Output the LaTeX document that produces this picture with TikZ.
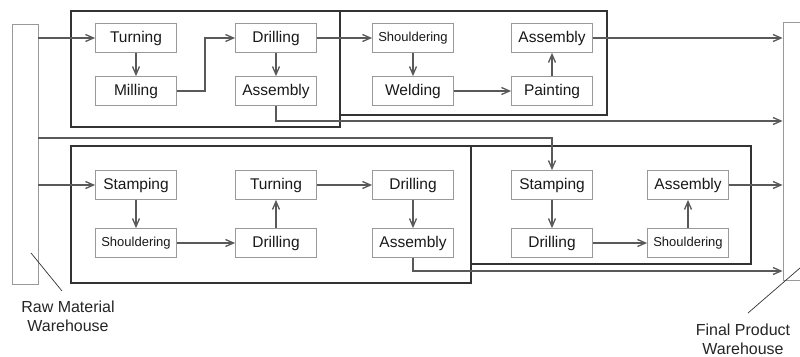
\documentclass[tikz,border=0pt]{standalone}
\usepackage{fontspec}
\setmainfont{Liberation Sans}
\usetikzlibrary{arrows.meta}
\begin{document}
\begin{tikzpicture}[x=1pt,y=-1pt,
  proc/.style={draw=black!40, line width=0.8pt, minimum width=81pt, minimum height=29pt, inner sep=0pt, font=\fontsize{15.5}{17}\selectfont, text=black!90},
  small/.style={font=\fontsize{13}{15}\selectfont},
  group/.style={draw=black!80, line width=2pt},
  flow/.style={draw=black!65, line width=1.3pt, -{Straight Barb[length=8pt,width=7pt]}},
  wh/.style={draw=black!40, line width=0.8pt, inner sep=0pt},
  lbl/.style={font=\fontsize{16}{19}\selectfont, align=center, text=black!85},
  leader/.style={draw=black!80, line width=0.7pt}]
\useasboundingbox (0,0) rectangle (800,356);
\clip (0,0) rectangle (800,356);
\fill[white] (0,0) rectangle (800,356);

% warehouses
\node[wh, minimum width=26pt, minimum height=260pt] (rw) at (25,154) {};
\node[wh, minimum width=30pt, minimum height=258pt] (fw) at (798,151) {};

% groups
\draw[group] (71,11) rectangle (340,127);
\draw[group] (340,11) rectangle (607,115);
\draw[group] (71,146) rectangle (471,283);
\draw[group] (471,146) rectangle (751,264);

% group 1
\node[proc] (t1) at (136,38) {Turning};
\node[proc] (m1) at (136,91) {Milling};
\node[proc] (d1) at (276,38) {Drilling};
\node[proc] (a1) at (276,91) {Assembly};
% group 2
\node[proc, small] (s2) at (413,38) {Shouldering};
\node[proc] (w2) at (413,91) {Welding};
\node[proc] (a2) at (552,38) {Assembly};
\node[proc] (p2) at (552,91) {Painting};
% group 3
\node[proc] (st3) at (136,185) {Stamping};
\node[proc, small] (sh3) at (136,243) {Shouldering};
\node[proc] (tu3) at (276,185) {Turning};
\node[proc] (dr3) at (276,243) {Drilling};
\node[proc] (dr3b) at (413,185) {Drilling};
\node[proc] (as3) at (413,243) {Assembly};
% group 4
\node[proc] (st4) at (552,185) {Stamping};
\node[proc] (dr4) at (552,243) {Drilling};
\node[proc] (as4) at (688,185) {Assembly};
\node[proc, small] (sh4) at (688,243) {Shouldering};

% helper coordinates
\coordinate (k1) at (205,91);
\coordinate (k2) at (276,121);
\coordinate (k3) at (552,138);
\coordinate (k4) at (413,271);

% connectors
\draw[flow] (rw.east |- t1) -- (t1.west);
\draw[flow] (t1) -- (m1);
\draw[flow] (m1.east) -- (k1) |- (d1.west);
\draw[flow] (d1) -- (a1);
\draw[flow] (a1.south) -- (k2) -- (k2 -| fw.west);
\draw[flow] (d1) -- (s2);
\draw[flow] (s2) -- (w2);
\draw[flow] (w2) -- (p2);
\draw[flow] (p2) -- (a2);
\draw[flow] (a2.east) -- (a2 -| fw.west);

\draw[flow] (rw.east |- k3) -- (k3) -- (st4.north);
\draw[flow] (rw.east |- st3) -- (st3.west);
\draw[flow] (st3) -- (sh3);
\draw[flow] (sh3) -- (dr3);
\draw[flow] (dr3) -- (tu3);
\draw[flow] (tu3) -- (dr3b);
\draw[flow] (dr3b) -- (as3);
\draw[flow] (as3.south) -- (k4) -- (k4 -| fw.west);
\draw[flow] (st4) -- (dr4);
\draw[flow] (dr4) -- (sh4);
\draw[flow] (sh4) -- (as4);
\draw[flow] (as4.east) -- (as4 -| fw.west);

% labels
\node[lbl] (rwl) at (68,316) {Raw Material\\Warehouse};
\node[lbl] (fwl) at (743,339) {Final Product\\Warehouse};
\coordinate (l1a) at (31,253);
\coordinate (l1b) at (62,291);
\coordinate (l2a) at (748,313);
\coordinate (l2b) at (800,268);
\draw[leader] (l1a) -- (l1b);
\draw[leader] (l2a) -- (l2b);
\end{tikzpicture}
\end{document}
